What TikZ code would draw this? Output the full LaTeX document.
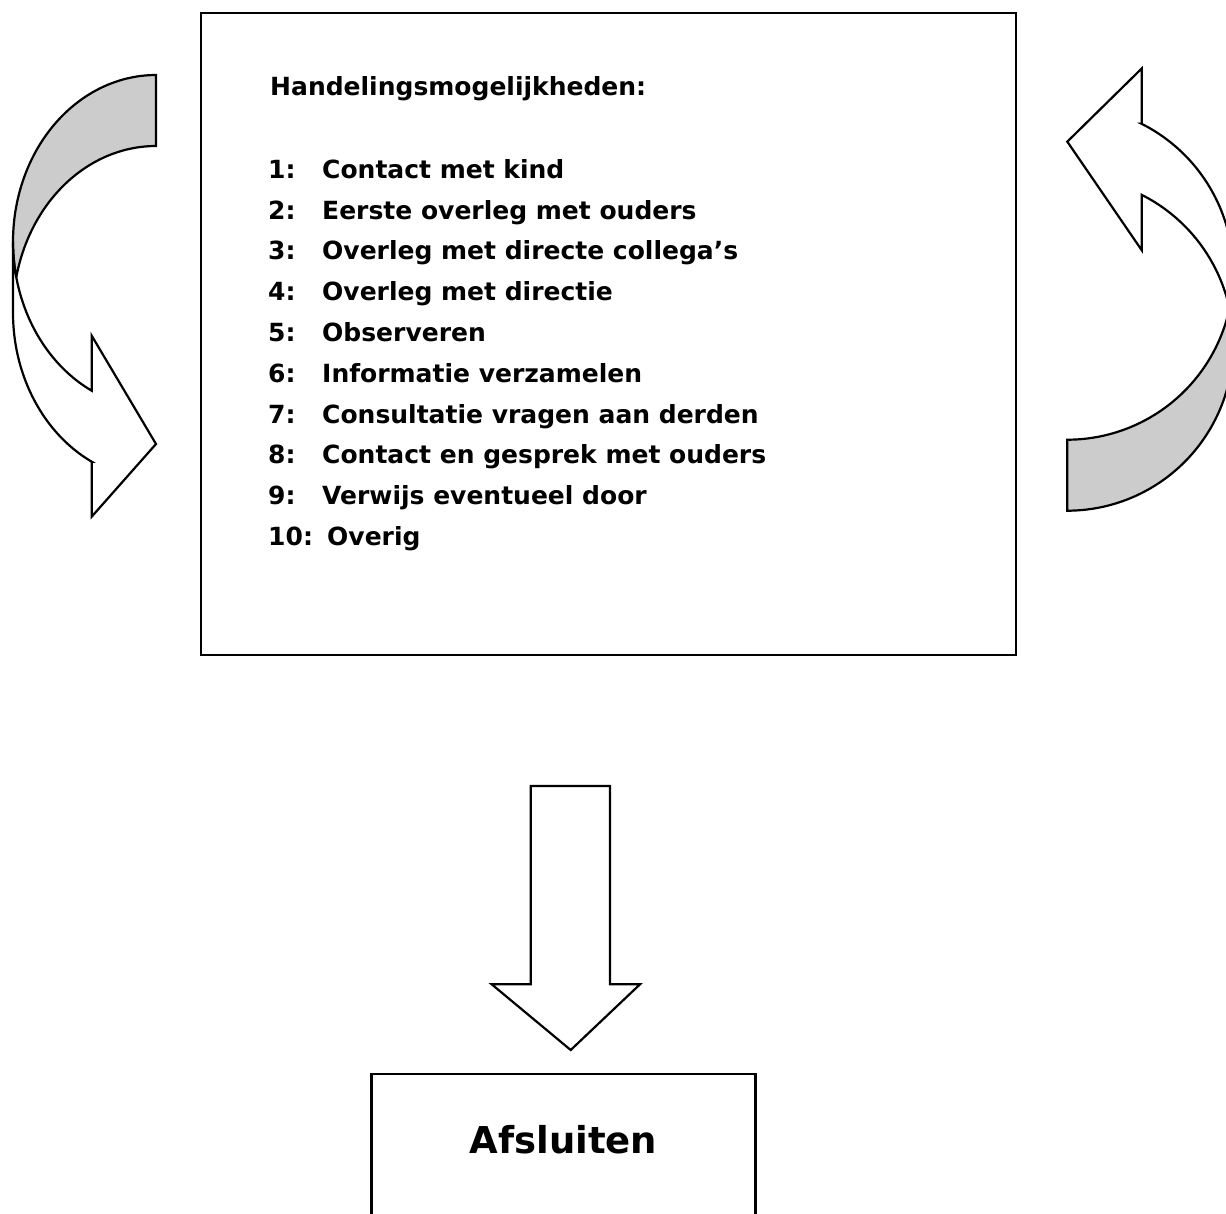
\documentclass[tikz,border=0pt]{standalone}
\usepackage{fontspec}
\setmainfont{DejaVu Sans}
\tikzset{
  arrowline/.style={draw=black, line width=2.2pt, line join=miter},
  boxline/.style={draw=black, line width=2.8pt, rectangle, inner sep=0pt, outer sep=0pt},
  grayfill/.style={fill=black!20},
  headtxt/.style={font=\bfseries\fontsize{25}{29}\selectfont, anchor=base west, inner sep=0pt},
  itemtxt/.style={font=\bfseries\fontsize{25}{29}\selectfont, anchor=base west, inner sep=0pt},
  bigtxt/.style={font=\bfseries\fontsize{37}{42}\selectfont, anchor=base, inner sep=0pt},
}
% curved arrow in a local frame (origin top-left, y down): w h th aw ah
\newcommand\CurvedArr[5]{%
  \pgfmathsetmacro\cw{#1}%
  \pgfmathsetmacro\ch{#2}%
  \pgfmathsetmacro\cth{#3}%
  \pgfmathsetmacro\caw{#4}%
  \pgfmathsetmacro\cah{#5}%
  \pgfmathsetmacro\chR{\ch/2-(\cth+\caw)/4}%
  \pgfmathsetmacro\cphi{acos(\cah/\cw)}%
  \pgfmathsetmacro\cdy{\chR*sin(\cphi)}%
  \pgfmathsetmacro\cyfive{\chR+\cdy}%
  \pgfmathsetmacro\cyseven{\cyfive+\cth}%
  \pgfmathsetmacro\cdh{(\caw-\cth)/2}%
  \pgfmathsetmacro\cyfour{\cyfive-\cdh}%
  \pgfmathsetmacro\cyeight{\cyseven+\cdh}%
  \pgfmathsetmacro\cysix{\ch-\caw/2}%
  \pgfmathsetmacro\cxone{\cw-\cah}%
  \pgfmathsetmacro\calpha{asin(\cth/(2*\chR))}%
  \pgfmathsetmacro\cyc{\chR+\cth}%
  \pgfmathsetmacro\cae{180+\calpha}%
  \pgfmathsetmacro\cab{180-\calpha}%
  \pgfmathsetmacro\cap{180-\cphi}%
  \filldraw[grayfill, arrowline] (\cw,\cth)
    -- plot[domain=270:\cae, samples=80] ({\cw+\cw*cos(\x)},{\cyc+\chR*sin(\x)})
    -- plot[domain=\cab:270, samples=80] ({\cw+\cw*cos(\x)},{\chR+\chR*sin(\x)})
    -- cycle;
  \filldraw[fill=white, arrowline] (0,\chR)
    -- plot[domain=180:\cap, samples=60] ({\cw+\cw*cos(\x)},{\chR+\chR*sin(\x)})
    -- (\cxone,\cyfour) -- (\cw,\cysix) -- (\cxone,\cyeight) -- (\cxone,\cyseven)
    -- plot[domain=\cap:180, samples=60] ({\cw+\cw*cos(\x)},{\cyc+\chR*sin(\x)})
    -- cycle;
}
\begin{document}
\begin{tikzpicture}[x=1pt, y=-1pt]
  \path[use as bounding box] (0,0) rectangle (1226,1213);
  \clip (0,0) rectangle (1226,1213);

  % main box
  \node[boxline, minimum width=815pt, minimum height=642pt] (main) at (608.5,334) {};

  % left curved arrow
  \begin{scope}[shift={(13,75)}]
    \CurvedArr{143}{459.5}{71}{181}{64.3}
  \end{scope}
  % right curved arrow (rotated)
  \begin{scope}[shift={(1233.3,510.7)}, rotate=180]
    \CurvedArr{166}{459.9}{71}{181.7}{74.4}
  \end{scope}

  % texts
  \node[headtxt] (head) at (270,95) {Handelingsmogelijkheden:};
  \node[itemtxt] (n1) at (268,178.3) {1:};
  \node[itemtxt] (t1) at (322,178.3) {Contact met kind};
  \node[itemtxt] (n2) at (268,219.1) {2:};
  \node[itemtxt] (t2) at (322,219.1) {Eerste overleg met ouders};
  \node[itemtxt] (n3) at (268,259.9) {3:};
  \node[itemtxt] (t3) at (322,259.9) {Overleg met directe collega’s};
  \node[itemtxt] (n4) at (268,300.7) {4:};
  \node[itemtxt] (t4) at (322,300.7) {Overleg met directie};
  \node[itemtxt] (n5) at (268,341.5) {5:};
  \node[itemtxt] (t5) at (322,341.5) {Observeren};
  \node[itemtxt] (n6) at (268,382.3) {6:};
  \node[itemtxt] (t6) at (322,382.3) {Informatie verzamelen};
  \node[itemtxt] (n7) at (268,423.1) {7:};
  \node[itemtxt] (t7) at (322,423.1) {Consultatie vragen aan derden};
  \node[itemtxt] (n8) at (268,463.9) {8:};
  \node[itemtxt] (t8) at (322,463.9) {Contact en gesprek met ouders};
  \node[itemtxt] (n9) at (268,504.7) {9:};
  \node[itemtxt] (t9) at (322,504.7) {Verwijs eventueel door};
  \node[itemtxt] (n10) at (268,545.5) {10:};
  \node[itemtxt] (t10) at (327,545.5) {Overig};

  % down block arrow
  \filldraw[fill=white, arrowline] (530.7,786) -- (610,786) -- (610,984.3) -- (640,984.3)
    -- (570.7,1050) -- (491.7,984.3) -- (530.7,984.3) -- cycle;

  % Afsluiten box (runs past the bottom edge)
  \node[boxline, minimum width=384pt, minimum height=190pt] (end) at (563.7,1169) {};
  \node[bigtxt] (endtxt) at (563.5,1153) {Afsluiten};
\end{tikzpicture}
\end{document}
